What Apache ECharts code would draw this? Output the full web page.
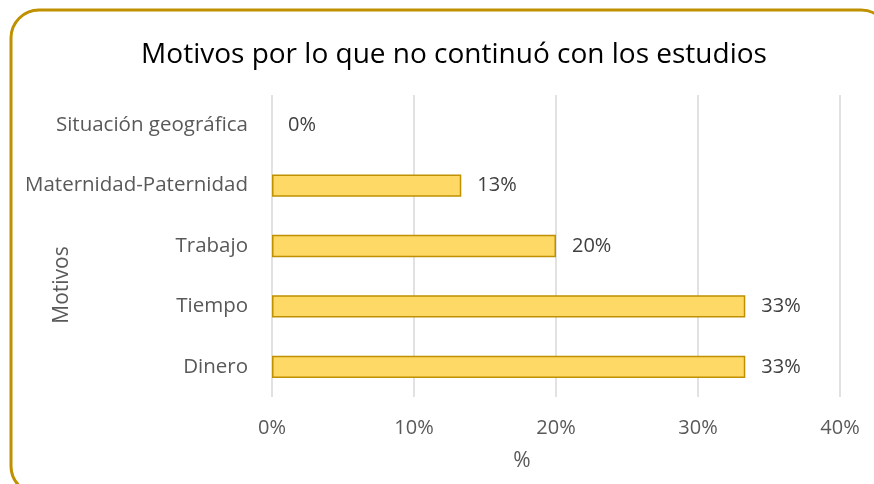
<!DOCTYPE html>
<html>
<head>
<meta charset="utf-8">
<script src="https://cdn.jsdelivr.net/npm/echarts@6/dist/echarts.min.js"></script>
<style>
  html, body { margin: 0; padding: 0; background: #fff; }
  #chart { width: 874px; height: 484px; }
</style>
</head>
<body>
<div id="chart"></div>
<script>
// datos del gráfico
const motivos = ['Dinero', 'Tiempo', 'Trabajo', 'Maternidad-Paternidad', 'Situación geográfica']
const porcentajes = [33.33, 33.33, 20, 13.33, 0]
const tituloTexto = 'Motivos por lo que no continuó con los estudios'
const fuente = '"Open Sans", "Noto Sans", sans-serif'

const chart = echarts.init(document.getElementById('chart'))
const option = {
    backgroundColor: '#fff',
    animation: false,
    title: {
        text: tituloTexto,
        left: 449,
        textAlign: 'center',
        top: 36,
        textStyle: { fontFamily: fuente, fontSize: 28, fontWeight: 'normal', color: '#000' }
    },
    grid: { left: 272, right: 34, top: 95, bottom: 87 },
    xAxis: {
        type: 'value',
        min: 0,
        max: 40,
        interval: 10,
        axisLine: { show: false },
        axisTick: { show: false },
        splitLine: { lineStyle: { color: '#D9D9D9', width: 1.5 } },
        axisLabel: {
            formatter: '{value}%',
            margin: 21,
            fontFamily: fuente,
            fontSize: 20,
            color: '#595959'
        }
    },
    yAxis: {
        type: 'category',
        data: motivos,
        axisLine: { show: false },
        axisTick: { show: false },
        axisLabel: { margin: 24, fontFamily: fuente, fontSize: 20.5, color: '#595959' }
    },
    series: [
        {
            type: 'bar',
            // sin borde para la barra de 0%
            data: porcentajes.map(v => v > 0 ? v : { value: v, itemStyle: { borderWidth: 0 } }),
            barWidth: '37%',
            itemStyle: { color: '#FFD966', borderColor: '#BF9000', borderWidth: 1.5 },
            label: {
                show: true,
                position: 'right',
                distance: 16,
                fontFamily: fuente,
                fontSize: 20,
                color: '#404040',
                formatter: (p) => Math.floor(p.value) + '%'
            }
        }
    ],
    graphic: [
        // marco redondeado
        {
            type: 'rect',
            shape: { x: 11, y: 10, width: 878, height: 484, r: 28 },
            style: { fill: 'none', stroke: '#BF9000', lineWidth: 3 },
            silent: true
        },
        // título eje y
        {
            type: 'text',
            x: 62,
            y: 285,
            rotation: Math.PI / 2,
            style: {
                text: 'Motivos',
                fontFamily: fuente,
                fontSize: 21,
                fill: '#595959',
                align: 'center',
                verticalAlign: 'middle'
            }
        },
        // título eje x
        {
            type: 'text',
            x: 522,
            y: 461,
            style: {
                text: '%',
                fontFamily: fuente,
                fontSize: 21,
                fill: '#595959',
                align: 'center',
                verticalAlign: 'middle'
            }
        }
    ]
}
chart.setOption(option)
window.addEventListener('resize', () => {
    chart.resize()
})
</script>
</body>
</html>
